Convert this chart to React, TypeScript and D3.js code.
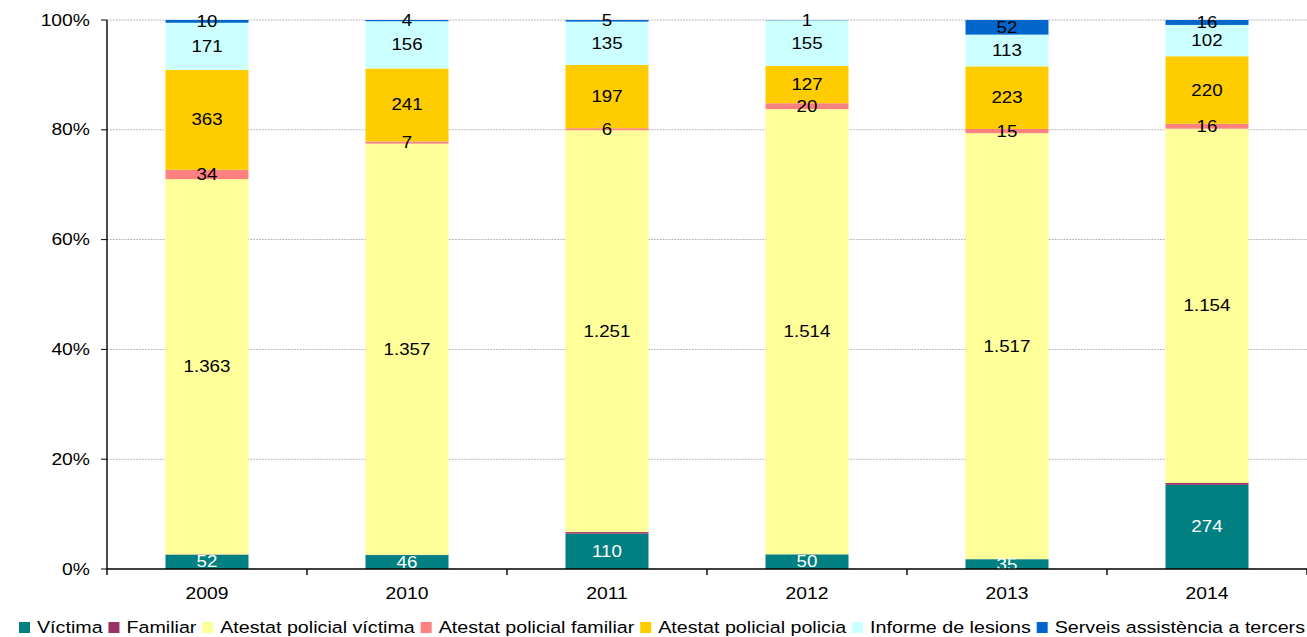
import React, { useMemo } from 'react';
import * as d3 from 'd3';

const years = ['2009', '2010', '2011', '2012', '2013', '2014'];
const seriesNames = [
  'Víctima',
  'Familiar',
  'Atestat policial víctima',
  'Atestat policial familiar',
  'Atestat policial policia',
  'Informe de lesions',
  'Serveis assistència a tercers',
];
const victima = [52, 46, 110, 50, 35, 274];
const familiar = [1, 1, 5, 0, 0, 6];
const atestatVictima = [1363, 1357, 1251, 1514, 1517, 1154];
const atestatFamiliar = [34, 7, 6, 20, 15, 16];
const atestatPolicia = [363, 241, 197, 127, 223, 220];
const informeLesions = [171, 156, 135, 155, 113, 102];
const serveis = [10, 4, 5, 1, 52, 16];
const seriesValues = [victima, familiar, atestatVictima, atestatFamiliar, atestatPolicia, informeLesions, serveis];
const colors = ['#008080', '#993366', '#FFFF99', '#FF8080', '#FFCC00', '#CCFFFF', '#0066CC'];
const labelColors = ['#ffffff', null, '#000000', '#000000', '#000000', '#000000', '#000000'];
const yTicks = [0, 0.2, 0.4, 0.6, 0.8, 1];

const W = 1307;
const H = 637;
const SX = 1.17; // horizontal stretch of the original rendering
const FONT = '"Liberation Sans", Arial, Helvetica, sans-serif';
const LEGEND_FONT = 16.5;

const locale = d3.formatLocale({ decimal: ',', thousands: '.', grouping: [3], currency: ['', ''] });
const fmt = locale.format(',d');

export default function App() {
  const vbW = W / SX;
  const left = 107 / SX;
  const right = 1307 / SX;
  const top = 20;
  const bottom = 569;

  const rows = years.map((y, i) => {
    const r: any = { year: y };
    seriesNames.forEach((s, k) => (r[s] = seriesValues[k][i]));
    return r;
  });
  const stacked = d3.stack<any>().keys(seriesNames).offset(d3.stackOffsetExpand)(rows);

  const x = d3.scaleBand<string>().domain(years).range([left, right]).paddingInner(0.585).paddingOuter(0.2925);
  const y = d3.scaleLinear().domain([0, 1]).range([bottom, top]);
  const step = x.step();

  const legend = useMemo(() => {
    const c = document.createElement('canvas').getContext('2d')!;
    c.font = `${LEGEND_FONT}px ${FONT}`;
    const widths = seriesNames.map((n) => c.measureText(n).width);
    const sqToText = 15.4;
    const textToSq = 5;
    const gaps = seriesNames.length * sqToText + (seriesNames.length - 1) * textToSq;
    const start = 19 / SX;
    const end = 1305 / SX;
    const k = (end - start - gaps) / widths.reduce((a, b) => a + b, 0);
    let cur = start;
    return seriesNames.map((name, i) => {
      const w = widths[i] * k;
      const item = { name, color: colors[i], sq: cur, tx: cur + sqToText, w };
      cur = cur + sqToText + w + textToSq;
      return item;
    });
  }, []);

  return (
    <div style={{ position: 'absolute', left: 0, top: 0 }}>
      <svg width={W} height={H} viewBox={`0 0 ${vbW} ${H}`} preserveAspectRatio="none" style={{ display: 'block' }}>
        <rect x={0} y={0} width={vbW} height={H} fill="#ffffff" />
        {yTicks.filter((t) => t > 0).map((t) => (
          <line key={t} x1={left} x2={right} y1={y(t)} y2={y(t)} stroke="#b4b4b4" strokeWidth={1} strokeDasharray="1.5,1" />
        ))}
        {stacked.map((layer, k) => (
          <g key={layer.key} fill={colors[k]}>
            {layer.map((d, i) => (
              <rect key={i} x={x(years[i])} width={x.bandwidth()} y={y(d[1])} height={Math.max(0, y(d[0]) - y(d[1]))} />
            ))}
          </g>
        ))}
        {stacked.map((layer, k) =>
          labelColors[k] === null ? null : (
            <g key={'l' + layer.key}>
              {layer.map((d, i) => {
                const v = seriesValues[k][i];
                if (!v) return null;
                return (
                  <text
                    key={i}
                    x={(x(years[i]) as number) + x.bandwidth() / 2}
                    y={(y(d[0]) + y(d[1])) / 2}
                    textAnchor="middle"
                    dominantBaseline="central"
                    fontFamily={FONT}
                    fontSize={16}
                    fill={labelColors[k] as string}
                  >
                    {fmt(v)}
                  </text>
                );
              })}
            </g>
          )
        )}
        <line x1={left} x2={left} y1={top} y2={bottom} stroke="#000" strokeWidth={1.2} />
        {yTicks.map((t) => (
          <g key={'yt' + t}>
            <line x1={left - 6 / SX} x2={left} y1={y(t)} y2={y(t)} stroke="#000" strokeWidth={1} />
            <text x={90 / SX} y={y(t)} textAnchor="end" dominantBaseline="central" fontFamily={FONT} fontSize={16.5} fill="#000">
              {d3.format('.0%')(t)}
            </text>
          </g>
        ))}
        <line x1={left} x2={right} y1={bottom} y2={bottom} stroke="#000" strokeWidth={1.4} />
        {d3.range(years.length + 1).map((i) => (
          <line key={'xt' + i} x1={left + i * step} x2={left + i * step} y1={bottom} y2={bottom + 6} stroke="#000" strokeWidth={1.2} />
        ))}
        {years.map((yr) => (
          <text
            key={'xl' + yr}
            x={(x(yr) as number) + x.bandwidth() / 2}
            y={593}
            textAnchor="middle"
            dominantBaseline="central"
            fontFamily={FONT}
            fontSize={16.5}
            fill="#000"
          >
            {yr}
          </text>
        ))}
        {legend.map((it) => (
          <g key={'lg' + it.name}>
            <rect x={it.sq} y={622} width={11 / SX} height={11} fill={it.color} />
            <text
              x={it.tx}
              y={627}
              dominantBaseline="central"
              fontFamily={FONT}
              fontSize={LEGEND_FONT}
              fill="#000"
              textLength={it.w}
              lengthAdjust="spacingAndGlyphs"
            >
              {it.name}
            </text>
          </g>
        ))}
      </svg>
    </div>
  );
}
